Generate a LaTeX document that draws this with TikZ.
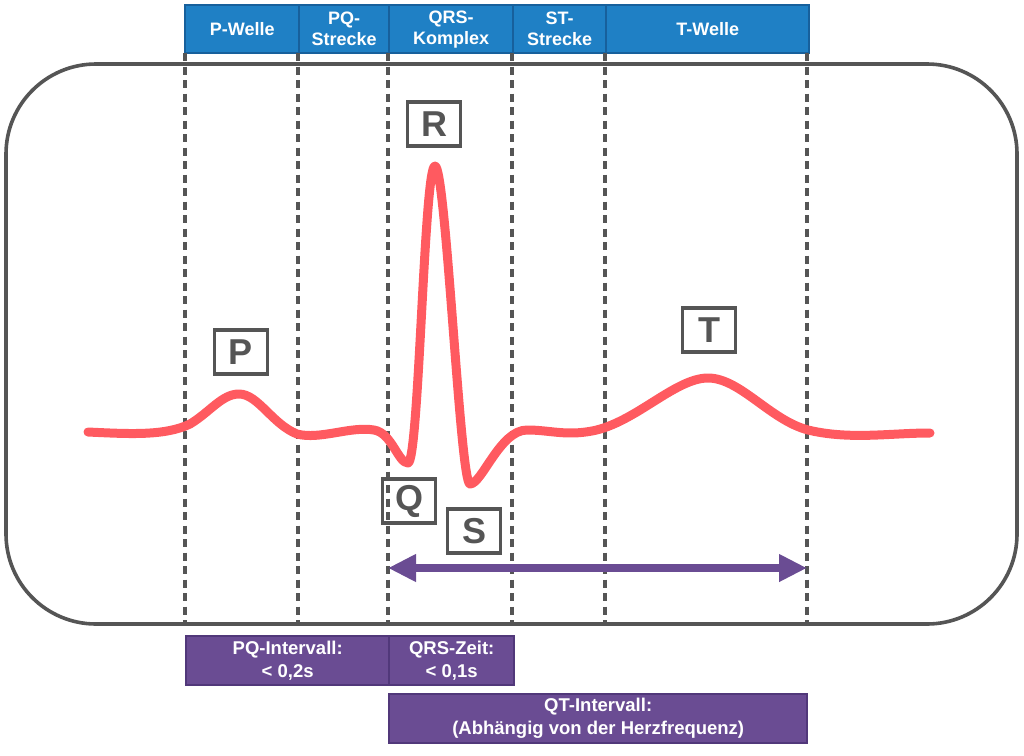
\documentclass[tikz,border=0pt]{standalone}
\usepackage{fontspec}
\setmainfont{Liberation Sans}
\usetikzlibrary{arrows.meta}
\definecolor{hblue}{HTML}{1F80C5}
\definecolor{hblueb}{HTML}{17609C}
\definecolor{pur}{HTML}{6A4C93}
\definecolor{purb}{HTML}{51387A}
\definecolor{ecg}{HTML}{FF5A60}
\definecolor{gr}{HTML}{555555}
\tikzset{
  hdr/.style={draw=hblueb, line width=2.4pt, fill=hblue, text=white, font=\fontsize{18}{21}\selectfont\bfseries, align=center, inner sep=0pt, anchor=north west},
  bot/.style={draw=purb, line width=2.4pt, fill=pur, text=white, font=\fontsize{18.5}{23}\selectfont\bfseries, align=center, inner sep=0pt, anchor=north west},
  lbl/.style={draw=gr, line width=3.6pt, text=gr, font=\fontsize{36}{36}\selectfont\bfseries, minimum width=53pt, minimum height=44pt, inner sep=0pt},
  guide/.style={gr, line width=3.4pt, dash pattern=on 8pt off 5.5pt},
}
\begin{document}
\begin{tikzpicture}[x=1pt,y=-1pt]
\useasboundingbox (0,0) rectangle (1024,755);
% frame
\draw[gr, line width=3.6pt, rounded corners=90pt] (6,64) rectangle (1017,624);
% header
\node[hdr, minimum width=114pt, minimum height=48pt] (hp) at (184,4) {P-Welle};
\node[hdr, minimum width=90pt, minimum height=48pt] (hpq) at (298,4) {PQ-\\Strecke};
\node[hdr, minimum width=124pt, minimum height=48pt] (hqrs) at (388,4) {QRS-\\Komplex};
\node[hdr, minimum width=93pt, minimum height=48pt] (hst) at (512,4) {ST-\\Strecke};
\node[hdr, minimum width=203pt, minimum height=48pt] (ht) at (605,4) {T-Welle};
% guide lines
\foreach \n/\x in {a/185,b/298,c/388,d/512,e/605,f/807}{
  \coordinate (t\n) at (\x,53);
  \coordinate (b\n) at (\x,624);
  \draw[guide] (t\n) -- (b\n);
}
% ECG
\draw[ecg, line width=9pt, line cap=round, line join=round]
 (88,432) .. controls (130,434) and (165,436) .. (190,424)
 .. controls (210,412) and (222,394) .. (239,394)
 .. controls (258,394) and (272,424) .. (297,434)
 .. controls (320,440) and (350,426) .. (374,430)
 .. controls (392,433) and (398,463) .. (408,463)
 .. controls (419,463) and (424,166) .. (435,166)
 .. controls (446,166) and (460,484) .. (470,484)
 .. controls (482,484) and (500,430) .. (527,430)
 .. controls (550,430) and (565,436) .. (592,431)
 .. controls (635,423) and (675,378) .. (708,378)
 .. controls (740,378) and (770,420) .. (808,430)
 .. controls (850,440) and (890,433) .. (930,433);
% labels
\node[lbl] (P) at (241,352) {P};
\node[lbl] (R) at (434,124) {R};
\node[lbl] (Q) at (409,501) {Q};
\node[lbl] (S) at (474,531) {S};
\node[lbl] (T) at (709,330) {T};
% arrow
\coordinate (al) at (388,568);
\coordinate (ar) at (807,568);
\draw[pur, line width=8.5pt, {Triangle[length=28pt,width=26pt]}-{Triangle[length=28pt,width=26pt]}] (al) -- (ar);
% bottom
\node[bot, minimum width=203pt, minimum height=49pt] (pq) at (185,635) {PQ-Intervall:\\< 0,2s};
\node[bot, minimum width=125pt, minimum height=49pt] (qrs) at (388,635) {QRS-Zeit:\\< 0,1s};
\node[bot, minimum width=418pt, minimum height=49pt] (qt) at (388,693) {QT-Intervall:\\(Abhängig von der Herzfrequenz)};
\end{tikzpicture}
\end{document}
